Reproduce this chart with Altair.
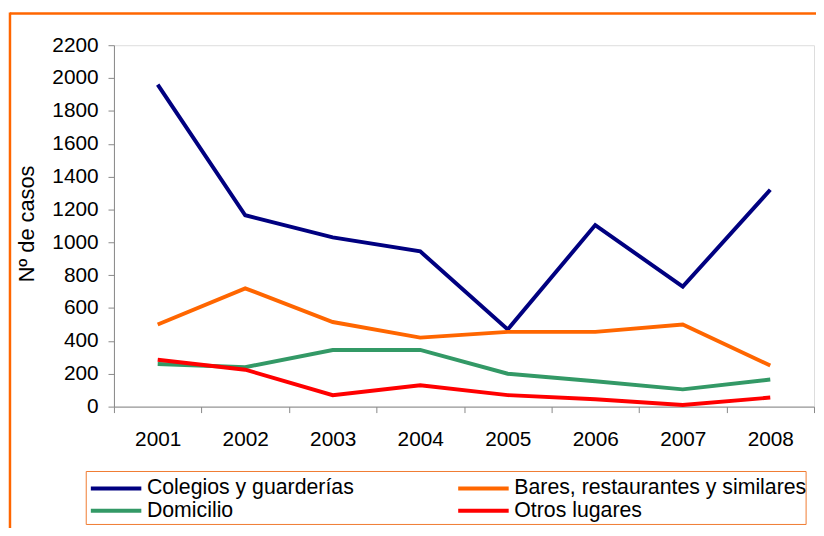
import altair as alt
import pandas as pd

years = ["2001", "2002", "2003", "2004", "2005", "2006", "2007", "2008"]
series_names = [
    "Colegios y guarderías",
    "Bares, restaurantes y similares",
    "Domicilio",
    "Otros lugares",
]
# legend is filled column by column: this order gives rows
# (Colegios | Bares) and (Domicilio | Otros)
legend_order = [
    "Colegios y guarderías",
    "Domicilio",
    "Bares, restaurantes y similares",
    "Otros lugares",
]
colegios = [1960, 1165, 1030, 945, 470, 1105, 730, 1320]
bares = [500, 720, 515, 420, 455, 455, 500, 250]
domicilio = [260, 240, 345, 345, 200, 155, 105, 165]
otros = [285, 225, 70, 130, 70, 45, 10, 55]
color_map = {
    "Colegios y guarderías": "#000080",
    "Bares, restaurantes y similares": "#FF6600",
    "Domicilio": "#339966",
    "Otros lugares": "#FF0000",
}
y_ticks = list(range(0, 2201, 200))

rows = []
for name, vals in zip(series_names, [colegios, bares, domicilio, otros]):
    for yr, v in zip(years, vals):
        rows.append({"year": yr, "value": v, "serie": name})
df = pd.DataFrame(rows)

FONT = "Liberation Sans"

lines = alt.Chart(df).mark_line(strokeWidth=4).encode(
    x=alt.X(
        "year:O",
        title=None,
        sort=years,
        bandPosition=0.5,
        scale=alt.Scale(type="band", paddingInner=0, paddingOuter=0),
        axis=alt.Axis(
            grid=False,
            tickBand="extent",
            labelAngle=0,
            labelPadding=16,
            tickSize=6,
            labelFontSize=21,
        ),
    ),
    y=alt.Y(
        "value:Q",
        scale=alt.Scale(domain=[0, 2200], nice=False),
        axis=alt.Axis(
            grid=False,
            values=y_ticks,
            format="d",
            title="Nº de casos",
            titleFontSize=22,
            titleFontWeight="normal",
            titleFont=FONT,
            titleColor="#000000",
            titleAngle=-90,
            titleAlign="center",
            titleBaseline="alphabetic",
            titleX=-81,
            titleY=180,
            labelPadding=10,
            tickSize=6,
            labelFontSize=21,
        ),
    ),
    color=alt.Color(
        "serie:N",
        scale=alt.Scale(
            domain=legend_order, range=[color_map[n] for n in legend_order]
        ),
        legend=alt.Legend(
            title=None,
            orient="none",
            legendX=-8.6,
            legendY=436.5,
            columns=2,
            columnPadding=96,
            rowPadding=0,
            symbolType="M-5,0H5",
            symbolSize=104,
            symbolStrokeWidth=4,
            labelFont=FONT,
            labelFontSize=21.5,
            labelColor="#000000",
            labelOffset=20.4,
            labelLimit=400,
            padding=0,
        ),
    ),
    order=alt.Order("year:O"),
)

frame_data = alt.Data(values=[{}])
top_line = alt.Chart(frame_data).mark_rule(color="#FF6600", strokeWidth=2.5).encode(
    x=alt.value(-105), x2=alt.value(712), y=alt.value(-32)
)
left_line = alt.Chart(frame_data).mark_rule(color="#FF6600", strokeWidth=2.5).encode(
    x=alt.value(-105), y=alt.value(-33), y2=alt.value(500)
)
legend_box = alt.Chart(frame_data).mark_rect(
    fill="#FFFFFF", stroke="#F07A30", strokeWidth=1
).encode(
    x=alt.value(-28), x2=alt.value(699), y=alt.value(430.5), y2=alt.value(484)
)

chart = alt.layer(top_line, left_line, legend_box, lines).properties(
    width=707,
    height=365,
    autosize=alt.AutoSizeParams(type="none"),
    padding={"left": 107, "top": 35, "right": 2, "bottom": 120},
).configure_view(stroke=None).configure_axis(
    grid=False,
    labelFont=FONT,
    labelColor="#000000",
    domainColor="#000000",
    tickColor="#000000",
    domainWidth=1,
    tickWidth=1,
).configure(background="#FFFFFF")

chart.save("out.html", embed_options={"renderer": "svg", "actions": False})
